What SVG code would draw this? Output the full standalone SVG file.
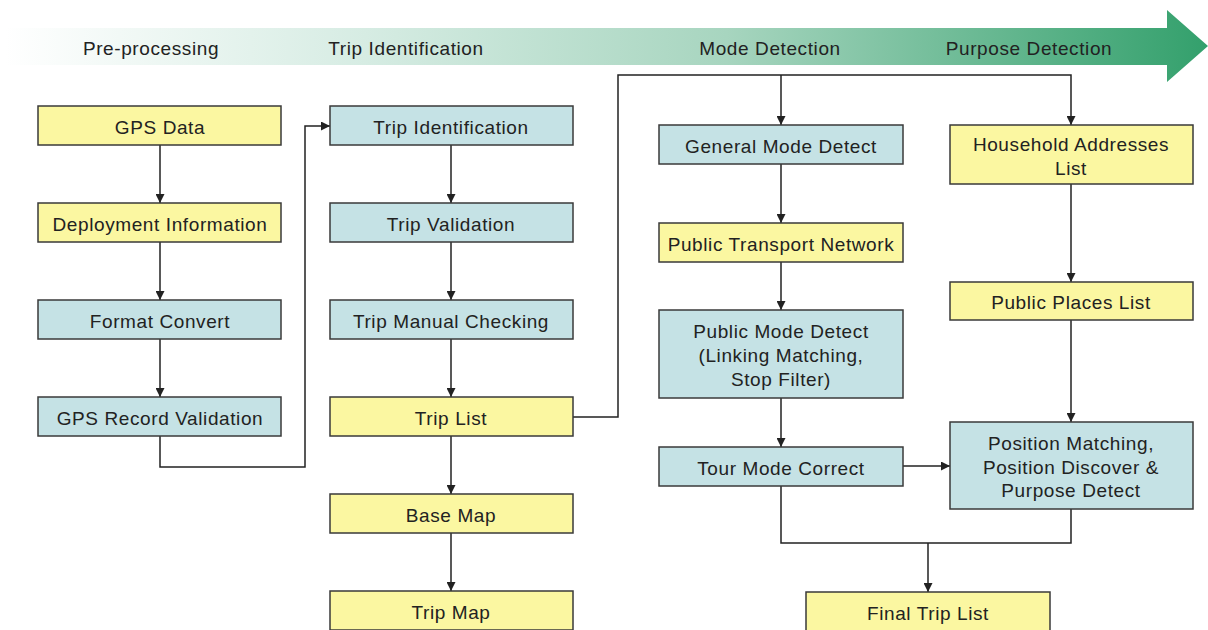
<svg xmlns="http://www.w3.org/2000/svg" width="1208" height="630" viewBox="0 0 1208 630">
  <style>
    text { font-family: "Liberation Sans", Arial, sans-serif; font-size: 19px; letter-spacing: 0.6px; fill: #222; text-anchor: middle; }
    .y { fill: #fbf7a1; stroke: #3a3a3a; stroke-width: 1.5; }
    .b { fill: #c5e2e5; stroke: #3a3a3a; stroke-width: 1.5; }
    .c { fill: none; stroke: #222; stroke-width: 1.5; }
    .a { marker-end: url(#ah); }
  </style>
  <defs>
    <linearGradient id="band" gradientUnits="userSpaceOnUse" x1="5" y1="0" x2="1208" y2="0">
      <stop offset="0" stop-color="#ffffff"/>
      <stop offset="0.3" stop-color="#d6ece3"/>
      <stop offset="0.6" stop-color="#a7d5bf"/>
      <stop offset="1" stop-color="#33a06c"/>
    </linearGradient>
    <marker id="ah" viewBox="0 0 9 9" refX="9" refY="4.5" markerWidth="9" markerHeight="9" markerUnits="userSpaceOnUse" orient="auto">
      <path d="M0,0 L9,4.5 L0,9 z" fill="#222"/>
    </marker>
  </defs>

  <!-- stage band -->
  <g id="stages">
    <polygon points="5,28 1167,28 1167,10 1208,46 1167,82 1167,65 5,65" fill="url(#band)"/>
    <text x="151" y="55">Pre-processing</text>
    <text x="406" y="55">Trip Identification</text>
    <text x="770" y="55">Mode Detection</text>
    <text x="1029" y="55">Purpose Detection</text>
  </g>

  <!-- connectors -->
  <g id="connectors">
    <path class="c a" d="M160,145 V203"/>
    <path class="c a" d="M160,242 V300"/>
    <path class="c a" d="M160,339 V397"/>
    <path class="c a" d="M160,436 V467 H305 V126 H330"/>
    <path class="c a" d="M451,145 V203"/>
    <path class="c a" d="M451,242 V300"/>
    <path class="c a" d="M451,339 V397"/>
    <path class="c a" d="M451,436 V494"/>
    <path class="c a" d="M451,533 V591"/>
    <path class="c a" d="M573,417 H618 V75 H1071 V125"/>
    <path class="c a" d="M781,75 V125"/>
    <path class="c a" d="M781,164 V223"/>
    <path class="c a" d="M781,262 V310"/>
    <path class="c a" d="M781,398 V447"/>
    <path class="c a" d="M1071,184 V282"/>
    <path class="c a" d="M1071,320 V422"/>
    <path class="c a" d="M903,466 H950"/>
    <path class="c" d="M781,486 V543 H1071 V509"/>
    <path class="c a" d="M928,543 V592"/>
  </g>

  <!-- pre-processing column -->
  <g id="gps-data"><rect class="y" x="38" y="106" width="243" height="39"/><text x="160" y="134">GPS Data</text></g>
  <g id="deployment-information"><rect class="y" x="38" y="203" width="243" height="39"/><text x="160" y="231">Deployment Information</text></g>
  <g id="format-convert"><rect class="b" x="38" y="300" width="243" height="39"/><text x="160" y="328">Format Convert</text></g>
  <g id="gps-record-validation"><rect class="b" x="38" y="397" width="243" height="39"/><text x="160" y="425">GPS Record Validation</text></g>

  <!-- trip identification column -->
  <g id="trip-identification"><rect class="b" x="330" y="106" width="243" height="39"/><text x="451" y="134">Trip Identification</text></g>
  <g id="trip-validation"><rect class="b" x="330" y="203" width="243" height="39"/><text x="451" y="231">Trip Validation</text></g>
  <g id="trip-manual-checking"><rect class="b" x="330" y="300" width="243" height="39"/><text x="451" y="328">Trip Manual Checking</text></g>
  <g id="trip-list"><rect class="y" x="330" y="397" width="243" height="39"/><text x="451" y="425">Trip List</text></g>
  <g id="base-map"><rect class="y" x="330" y="494" width="243" height="39"/><text x="451" y="522">Base Map</text></g>
  <g id="trip-map"><rect class="y" x="330" y="591" width="243" height="39"/><text x="451" y="619">Trip Map</text></g>

  <!-- mode detection column -->
  <g id="general-mode-detect"><rect class="b" x="659" y="125" width="244" height="39"/><text x="781" y="153">General Mode Detect</text></g>
  <g id="public-transport-network"><rect class="y" x="659" y="223" width="244" height="39"/><text x="781" y="251">Public Transport Network</text></g>
  <g id="public-mode-detect"><rect class="b" x="659" y="310" width="244" height="88"/>
    <text x="781" y="338">Public Mode Detect</text>
    <text x="781" y="362">(Linking Matching,</text>
    <text x="781" y="386">Stop Filter)</text>
  </g>
  <g id="tour-mode-correct"><rect class="b" x="659" y="447" width="244" height="39"/><text x="781" y="475">Tour Mode Correct</text></g>

  <!-- purpose detection column -->
  <g id="household-addresses-list"><rect class="y" x="950" y="125" width="243" height="59"/>
    <text x="1071" y="151">Household Addresses</text>
    <text x="1071" y="175">List</text>
  </g>
  <g id="public-places-list"><rect class="y" x="950" y="282" width="243" height="38"/><text x="1071" y="309">Public Places List</text></g>
  <g id="position-matching"><rect class="b" x="950" y="422" width="243" height="87"/>
    <text x="1071" y="450">Position Matching,</text>
    <text x="1071" y="474">Position Discover &amp;</text>
    <text x="1071" y="497">Purpose Detect</text>
  </g>

  <g id="final-trip-list"><rect class="y" x="806" y="592" width="244" height="39"/><text x="928" y="620">Final Trip List</text></g>
</svg>
